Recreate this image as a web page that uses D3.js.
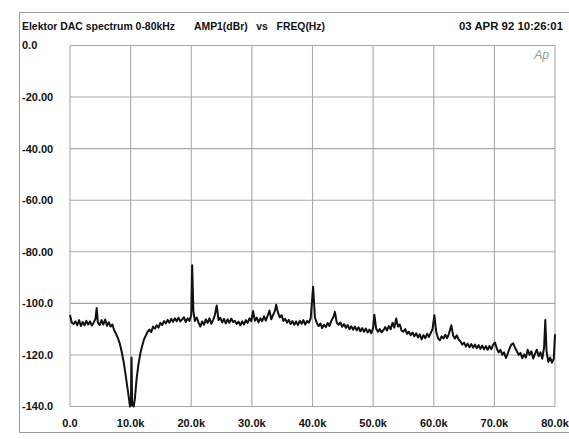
<!DOCTYPE html>
<html lang="en">
  <head>
    <meta charset="utf-8">
    <title>Elektor DAC spectrum</title>
    <script type="text/javascript" src="https://cdn.jsdelivr.net/npm/d3@7"></script>
    <style>
      body { margin: 0; background: #fff; }
      text { font-family: "Liberation Sans", Arial, sans-serif; }
    </style>
  </head>
  <body>
    <script type="text/javascript">
    // tick values and labels as printed on the plot
    var yTicks = [0, -20, -40, -60, -80, -100, -120, -140];
    var yTickLabels = ["0.0", "-20.00", "-40.00", "-60.00", "-80.00", "-100.0", "-120.0", "-140.0"];
    var xTicks = [0, 10, 20, 30, 40, 50, 60, 70, 80];
    var xTickLabels = ["0.0", "10.0k", "20.0k", "30.0k", "40.0k", "50.0k", "60.0k", "70.0k", "80.0k"];

    // spectrum: frequency (kHz) and amplitude (dBr)
    var freq = [0, 0.3, 0.6, 0.9, 1.2, 1.5, 1.8, 2.1, 2.4, 2.7, 3.0, 3.3, 3.6, 3.9, 4.2, 4.4, 4.6, 4.9,
      5.2, 5.5, 5.8, 6.1, 6.4, 6.7, 7.0, 7.3, 7.6, 7.9, 8.2, 8.5, 8.8, 9.1, 9.4, 9.7, 9.9, 10.05,
      10.15, 10.25, 10.5, 10.7, 11.0, 11.3, 11.6, 11.9, 12.2, 12.5, 12.8, 13.1, 13.4, 13.7, 14.0,
      14.3, 14.6, 14.9, 15.2, 15.5, 15.8, 16.1, 16.4, 16.7, 17.0, 17.3, 17.6, 17.9, 18.2, 18.5,
      18.8, 19.1, 19.4, 19.7, 20.0, 20.15, 20.35, 20.6, 20.9, 21.2, 21.5, 21.8, 22.1, 22.4, 22.7,
      23.0, 23.3, 23.6, 23.9, 24.2, 24.5, 24.8, 25.1, 25.4, 25.7, 26.0, 26.3, 26.6, 26.9, 27.2,
      27.5, 27.8, 28.1, 28.4, 28.7, 29.0, 29.3, 29.6, 29.9, 30.2, 30.5, 30.8, 31.1, 31.4, 31.7,
      32.0, 32.3, 32.6, 32.9, 33.2, 33.5, 33.8, 34.0, 34.3, 34.6, 34.9, 35.2, 35.5, 35.8, 36.1,
      36.4, 36.7, 37.0, 37.3, 37.6, 37.9, 38.2, 38.5, 38.8, 39.1, 39.4, 39.7, 40.1, 40.4, 40.7,
      41.0, 41.3, 41.6, 41.9, 42.2, 42.5, 42.8, 43.1, 43.5, 43.7, 44.0, 44.3, 44.6, 44.9, 45.2,
      45.5, 45.8, 46.1, 46.4, 46.7, 47.0, 47.3, 47.6, 47.9, 48.2, 48.5, 48.8, 49.1, 49.4, 49.7,
      50.0, 50.2, 50.5, 50.8, 51.1, 51.4, 51.7, 52.0, 52.3, 52.6, 52.9, 53.2, 53.5, 53.8, 54.1,
      54.4, 54.7, 55.0, 55.3, 55.6, 55.9, 56.2, 56.5, 56.8, 57.1, 57.4, 57.7, 58.0, 58.3, 58.6,
      58.9, 59.2, 59.5, 59.8, 60.1, 60.4, 60.7, 61.0, 61.3, 61.6, 61.9, 62.2, 62.5, 62.9, 63.2,
      63.5, 63.8, 64.1, 64.4, 64.7, 65.0, 65.3, 65.6, 65.9, 66.2, 66.5, 66.8, 67.1, 67.4, 67.7,
      68.0, 68.3, 68.6, 68.9, 69.2, 69.5, 69.8, 70.1, 70.4, 70.7, 71.0, 71.3, 71.6, 71.9, 72.2,
      72.5, 72.8, 73.1, 73.4, 73.7, 74.0, 74.3, 74.6, 74.9, 75.2, 75.5, 75.8, 76.1, 76.4, 76.7,
      77.0, 77.3, 77.6, 77.9, 78.2, 78.4, 78.6, 78.9, 79.2, 79.5, 79.8, 80.0];

    var amp = [-104.5, -107.5, -108.0, -107.0, -108.5, -106.5, -108.8, -107.2, -108.5, -106.8, -108.2,
      -107.0, -108.6, -107.5, -106.0, -101.8, -107.5, -108.4, -106.5, -108.2, -106.3, -108.7, -107.3,
      -109.0, -108.2, -110.5, -111.8, -113.5, -115.5, -118.5, -122.0, -126.5, -131.5, -136.5, -140.0,
      -139.5, -121.0, -139.0, -140.0, -137.0, -129.0, -123.5, -119.5, -116.5, -114.0, -112.5, -111.0,
      -110.2, -111.2, -109.0, -109.8, -108.5, -109.4, -107.6, -108.4, -106.9, -107.8, -106.4, -107.5,
      -106.0, -107.2, -105.8, -106.9, -105.6, -107.0, -106.2, -105.4, -107.3, -105.8, -106.8, -104.5,
      -85.2, -103.0, -106.8, -105.5, -107.5, -109.0, -107.0, -108.3, -106.2, -107.6, -105.8, -107.9,
      -106.5, -104.5, -100.8, -106.5, -105.6, -107.4, -106.0, -107.8, -106.2, -107.5, -105.9, -107.2,
      -106.8, -108.0, -107.1, -108.5, -107.0, -108.2, -106.5, -107.6, -105.8, -106.9, -103.0, -106.8,
      -105.5, -107.4, -105.8, -106.9, -105.0, -106.7, -104.8, -102.8, -106.2, -104.5, -103.0, -100.5,
      -103.5, -105.4, -104.6, -106.8, -106.0, -107.5, -106.4, -108.0, -106.9, -108.3, -107.0, -108.4,
      -106.8, -107.9, -106.5, -108.2, -106.8, -107.5, -105.8, -93.6, -105.5, -107.5, -108.8, -107.8,
      -109.6, -108.3, -109.2, -107.6, -108.8, -106.8, -105.0, -103.3, -107.5, -108.3, -107.4, -109.1,
      -108.0, -109.5, -108.4, -110.0, -108.9, -110.2, -109.0, -110.5, -109.3, -110.8, -109.6, -111.0,
      -109.8, -111.3, -110.2, -111.6, -109.5, -104.4, -109.8, -111.0, -110.0, -111.2, -110.4, -109.2,
      -110.5, -108.8, -110.0, -107.5, -109.4, -105.9, -109.0, -108.2, -110.6, -111.0, -110.0, -111.8,
      -111.0, -112.4, -111.3, -112.8, -111.6, -113.2, -112.0, -114.0, -112.3, -113.5, -111.8, -113.0,
      -111.5, -110.0, -104.6, -111.0, -113.5, -114.3, -112.8, -113.6, -112.2, -113.5, -111.8, -108.5,
      -112.5, -113.6, -112.4, -114.0, -114.8, -116.0, -115.2, -116.8, -115.6, -117.0, -115.8, -117.2,
      -116.0, -117.4, -116.2, -117.6, -116.4, -117.8, -116.6, -118.0, -116.5, -117.8, -116.0, -115.2,
      -117.5, -119.0, -118.0, -120.0, -119.0, -121.2, -119.5, -117.5, -116.0, -115.5, -117.2, -118.5,
      -120.0, -119.2, -121.3, -119.8, -121.0, -118.0, -120.0, -118.6, -121.4, -119.6, -118.0, -120.5,
      -119.0, -121.5, -117.0, -106.5, -118.5, -122.7, -121.0, -123.0, -121.5, -112.0];

    var w = 569;
    var h = 439;

    var svg = d3.select("body")
                .append("svg")
                .attr("width", w)
                .attr("height", h)
                .style("display", "block");

    svg.append("rect").attr("width", w).attr("height", h).attr("fill", "#fff");

    // outer frame of the printout
    svg.append("path")
       .attr("d", "M572,12.5 H19.5 V432.5 H572")
       .attr("fill", "none")
       .attr("stroke", "#9a9a9a")
       .attr("stroke-width", 1);

    var x = d3.scaleLinear().domain([0, 80]).range([70, 555]);
    var y = d3.scaleLinear().domain([-140, 0]).range([406.5, 45.5]);

    // header texts
    var header = svg.append("g")
                    .attr("font-weight", "bold")
                    .attr("font-size", "11px")
                    .attr("fill", "#111");
    header.append("text").attr("x", 22).attr("y", 30)
          .attr("textLength", 153).attr("lengthAdjust", "spacingAndGlyphs")
          .text("Elektor DAC spectrum 0-80kHz");
    header.append("text").attr("x", 194).attr("y", 30)
          .attr("textLength", 131).attr("lengthAdjust", "spacingAndGlyphs")
          .attr("xml:space", "preserve")
          .text("AMP1(dBr)   vs   FREQ(Hz)");
    header.append("text").attr("x", 459).attr("y", 30)
          .attr("textLength", 104).attr("lengthAdjust", "spacingAndGlyphs")
          .text("03 APR 92 10:26:01");

    // grid
    var grid = svg.append("g")
                  .attr("stroke", "#a9a9a9")
                  .attr("stroke-width", 1.1);
    grid.selectAll("line.h")
        .data(yTicks)
        .enter()
        .append("line")
        .attr("x1", x(0)).attr("x2", x(80))
        .attr("y1", function(d) { return y(d); })
        .attr("y2", function(d) { return y(d); });
    grid.selectAll("line.v")
        .data(xTicks)
        .enter()
        .append("line")
        .attr("y1", y(0)).attr("y2", y(-140))
        .attr("x1", function(d) { return x(d); })
        .attr("x2", function(d) { return x(d); });

    // tick labels
    svg.append("g")
       .selectAll("text")
       .data(yTicks)
       .enter()
       .append("text")
       .attr("x", 22)
       .attr("y", function(d) { return y(d); })
       .attr("dy", "0.36em")
       .attr("font-weight", "bold")
       .attr("font-size", "11px")
       .attr("fill", "#111")
       .text(function(d, i) { return yTickLabels[i]; });

    svg.append("g")
       .selectAll("text")
       .data(xTicks)
       .enter()
       .append("text")
       .attr("x", function(d) { return x(d); })
       .attr("y", 427)
       .attr("text-anchor", "middle")
       .attr("font-weight", "bold")
       .attr("font-size", "11px")
       .attr("fill", "#111")
       .text(function(d, i) { return xTickLabels[i]; });

    // Audio Precision logo
    svg.append("text")
       .attr("x", 549).attr("y", 59)
       .attr("text-anchor", "end")
       .attr("font-style", "italic")
       .attr("font-size", "12px")
       .attr("fill", "#999")
       .text("Ap");

    // the spectrum trace
    var line = d3.line()
                 .x(function(d) { return x(d[0]); })
                 .y(function(d) { return y(d[1]); });

    svg.append("path")
       .datum(d3.zip(freq, amp))
       .attr("d", line)
       .attr("fill", "none")
       .attr("stroke", "#111")
       .attr("stroke-width", 2)
       .attr("stroke-linejoin", "round");
    </script>
  </body>
</html>
